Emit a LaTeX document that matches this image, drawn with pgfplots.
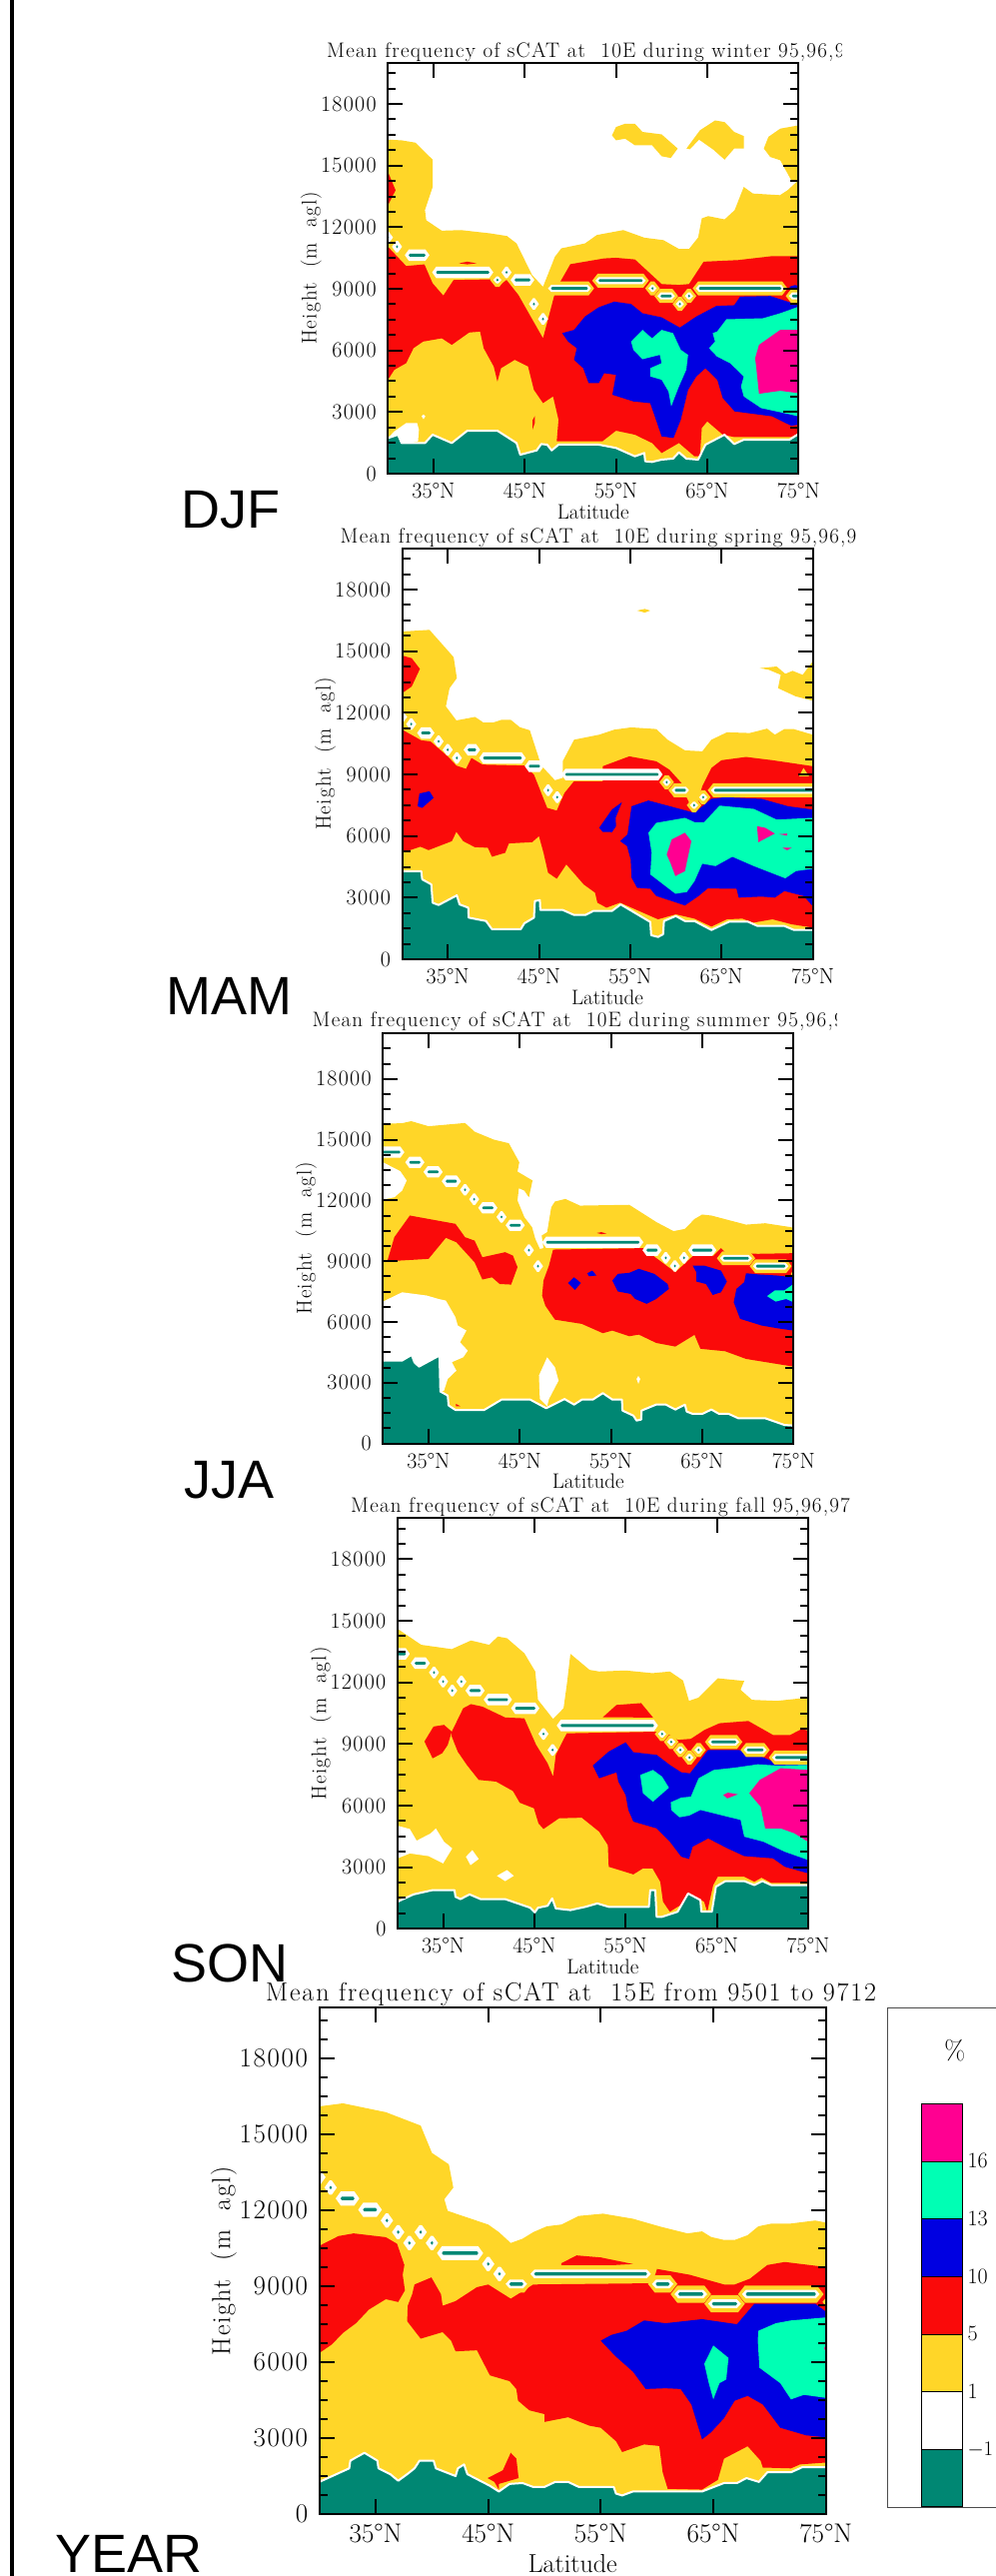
\documentclass[border=0pt]{standalone}
\usepackage{fontspec}
\usepackage{pgfplots}
\pgfplotsset{compat=1.18}
\newfontfamily\arialf{Liberation Sans}
\newfontfamily\ttlf{Latin Modern Roman}[LetterSpace=6]
\newfontfamily\ttlg{Latin Modern Roman}[LetterSpace=7]
\definecolor{cT}{RGB}{0,135,115}
\definecolor{cY}{RGB}{255,214,40}
\definecolor{cR}{RGB}{250,10,10}
\definecolor{cB}{RGB}{0,0,225}
\definecolor{cG}{RGB}{0,255,180}
\definecolor{cM}{RGB}{255,0,145}
\newcommand{\fs}[1]{\fontsize{#1}{#1}\selectfont}
\pgfplotsset{
  sc/.style={scale only axis,xmin=30,xmax=75,ymin=0,ymax=20000,axis on top,
    axis line style={line width=2pt},
    tick style={black,line width=2pt},
    major tick length=15pt,minor tick length=8pt,tick align=inside,
    xtick={35,45,55,65,75},xticklabels={35°N,45°N,55°N,65°N,75°N},
    ytick={0,3000,...,18000},minor ytick={750,1500,...,19500},
    scaled y ticks=false,
    /pgf/number format/1000 sep={},/pgf/number format/assume math mode=true,
    xlabel={Latitude},ylabel={Height\ \ (m\ \ agl)},
  },
  sm/.style={sc,width=411pt,height=411pt,
    xticklabel style={font=\fs{22},yshift=-6pt},yticklabel style={font=\ttlf\fs{22},xshift=-8pt},
    every axis y label/.style={at={(axis description cs:-0.187,0.5)},rotate=90,anchor=center,font=\ttlf\fs{21}},
    every axis x label/.style={at={(axis description cs:0.5,0)},anchor=center,yshift=-38pt,font=\fs{21}},
  },
  lg/.style={sc,width=507pt,height=506.5pt,
    xticklabel style={font=\fs{27},yshift=-7pt},yticklabel style={font=\ttlf\fs{27},xshift=-8pt},
    every axis y label/.style={at={(axis description cs:-0.189,0.5)},rotate=90,anchor=center,font=\ttlf\fs{26}},
    every axis x label/.style={at={(axis description cs:0.5,0)},anchor=center,yshift=-50pt,font=\fs{26}},
  },
  fY/.style={fill=cY,draw=none},fW/.style={fill=white,draw=none},
  fR/.style={fill=cR,draw=none},fB/.style={fill=cB,draw=none},
  fG/.style={fill=cG,draw=none},fM/.style={fill=cM,draw=none},
  fT/.style={fill=cT,draw=white,line width=2pt,line join=round},
  fC/.style={fill=cT,draw=none},
}
% jet core: lozenge from latitude #1 to #2 at height #3, white halo only
\newcommand{\jet}[3]{%
  \pgfmathsetmacro\ja{#1-0.55}\pgfmathsetmacro\jb{#1-0.1}\pgfmathsetmacro\jc{#2+0.1}\pgfmathsetmacro\jd{#2+0.55}%
  \pgfmathsetmacro\ju{#3+280}\pgfmathsetmacro\jl{#3-280}%
  \addplot[fW] coordinates {(\ja,#3)(\jb,\ju)(\jc,\ju)(\jd,#3)(\jc,\jl)(\jb,\jl)};
  \jcore{#1}{#2}{#3}}
% same with a yellow rim, where the halo sits in red
\newcommand{\jetr}[3]{%
  \pgfmathsetmacro\ja{#1-0.8}\pgfmathsetmacro\jb{#1-0.2}\pgfmathsetmacro\jc{#2+0.2}\pgfmathsetmacro\jd{#2+0.8}%
  \pgfmathsetmacro\ju{#3+340}\pgfmathsetmacro\jl{#3-340}%
  \addplot[fY] coordinates {(\ja,#3)(\jb,\ju)(\jc,\ju)(\jd,#3)(\jc,\jl)(\jb,\jl)};
  \pgfmathsetmacro\ja{#1-0.45}\pgfmathsetmacro\jb{#1-0.1}\pgfmathsetmacro\jc{#2+0.1}\pgfmathsetmacro\jd{#2+0.45}%
  \pgfmathsetmacro\ju{#3+170}\pgfmathsetmacro\jl{#3-170}%
  \addplot[fW] coordinates {(\ja,#3)(\jb,\ju)(\jc,\ju)(\jd,#3)(\jc,\jl)(\jb,\jl)};
  \jcore{#1}{#2}{#3}}
\newcommand{\jcore}[3]{%
  \pgfmathsetmacro\ja{#1-0.12}\pgfmathsetmacro\jd{#2+0.12}%
  \pgfmathsetmacro\ju{#3+70}\pgfmathsetmacro\jl{#3-70}%
  \addplot[fC] coordinates {(\ja,#3)(#1,\ju)(#2,\ju)(\jd,#3)(#2,\jl)(#1,\jl)};}
\begin{document}
\begin{tikzpicture}
\path[use as bounding box] (0pt,0pt) rectangle (996pt,2578pt);
\fill[black] (10pt,0pt) rectangle (14pt,2578pt);
% ---------- DJF
\begin{axis}[sm,at={(388.3pt,2104pt)},anchor=south west]
\addplot[fY] coordinates {(30,16265)(31.5,16230)(33,16120)(34.9,15290)(34.9,13960)(34.06,12830)(34.2,12340)(35.9,11830)(38,11860)(41.2,11700)(43.05,11570)(44.1,11210)(45.8,9670)(47,9100)(48.3,10560)(49,10970)(51.6,11210)(52.9,11620)(55.8,11860)(58.1,11490)(60.2,11370)(61.9,10940)(63,10940)(64,11500)(64.4,12430)(65.1,12540)(66.9,12380)(68,12830)(69,13960)(70,13640)(72.97,13560)(73.8,13800)(75,14290)(75,0)(30,0)};
\addplot[fY] coordinates {(54.56,16475)(55,16880)(56,17040)(57.07,17040)(57.9,16640)(60,16520)(61.76,15830)(61,15370)(60,15455)(58.95,15990)(57.07,15990)(56,16310)(55,16230)};
\addplot[fY] coordinates {(62.72,15830)(64.2,16720)(65.86,17200)(66.9,17120)(67.95,16640)(69,16440)(69,15830)(67.95,15830)(66.9,15290)(65.65,15780)(64.1,16265)(63.1,15795)};
\addplot[fY] coordinates {(71.2,15830)(71.7,16400)(73,16800)(75,16960)(75,14290)(74.2,14290)(73,15260)(71.9,15420)};
\addplot[fW] coordinates {(30,1733)(30.7,2057)(32,2462)(33.2,2462)(33.4,2138)(33.3,1570)(30,1235)};
\addplot[fW] coordinates {(33.7,2790)(33.9,2880)(34.1,2790)(33.9,2650)};
\addplot[fR] coordinates {(30,14690)(30.84,13800)(30,13070)};
\addplot[fR] coordinates {(37.8,10240)(38.7,10320)(39.7,10240)(38.7,10190)};
\addplot[fR] coordinates {(45.85,2140)(46.1,2470)(46.1,2800)(45.85,2600)};
\addplot[fR] coordinates {(30,11050)(32,10110)(34,10190)(34.9,9270)(36.07,8670)(37.2,9430)(41.2,9460)(42,9100)(43,9430)(44.3,8700)(47,6590)(48.2,8620)(48.9,9350)(50,10200)(53.7,10480)(55,10510)(57.07,10430)(60,9230)(61.9,9190)(63,9230)(64.6,10320)(68.4,10400)(72.1,10590)(75,10590)(75,1976)(74.2,1782)(67.95,1782)(66.7,1895)(65,2543)(64.4,2220)(64.2,842)(63.6,842)(61.9,1490)(60,1004)(58.95,1490)(57.07,1895)(55,2090)(53.5,1570)(48.5,1570)(48.7,2624)(48.1,3758)(47,3434)(46,4082)(45.36,5216)(43.9,5540)(42.4,5135)(42,4487)(41.6,5216)(40.5,6107)(40.1,6917)(38.9,6870)(37,6270)(35.9,6590)(33.85,6430)(32.8,6107)(32,5378)(30.7,5054)(30,4568)};
\addplot[fB] coordinates {(49.1,6840)(50.4,7000)(51.6,7650)(53.1,8100)(54.8,8375)(56.65,8260)(57.9,7810)(60,7610)(62,7110)(63.8,7650)(66,8165)(67.95,8200)(68.6,8620)(71.9,8650)(75,8210)(75,2380)(74.2,2330)(72.1,2790)(68,3030)(66.7,3680)(66.1,4570)(64.8,5135)(63.8,4730)(62.9,4080)(62.1,2620)(61.3,1733)(60,1814)(58.75,3430)(56.9,3515)(54.6,3840)(55,4810)(53.7,4890)(53.1,4406)(52,4406)(51.4,5135)(50.4,5540)(50.7,6107)(49.75,6430)};
\addplot[fB] coordinates {(74,9100)(74.6,9180)(75,9150)(75,8800)(74.4,8900)};
\addplot[fG] coordinates {(56.65,6430)(57.9,7000)(58.95,6590)(60,7000)(61.25,6840)(62.1,6030)(62.9,5780)(62.7,5054)(61.9,4244)(61.05,3272)(60.75,4000)(60,4570)(58.75,4730)(58.75,5135)(60,5378)(59.8,5780)(57.9,5570)(56.9,6030)};
\addplot[fG] coordinates {(66.07,6917)(67.1,7517)(71.1,7565)(73,7810)(75,8130)(75,2790)(73.4,2950)(70.9,3190)(69,3758)(68.7,4244)(69,4730)(67.5,5378)(66.07,5700)(65.2,6107)(65.85,6430)(65.6,6840)};
\addplot[fM] coordinates {(70.25,5620)(70.67,6270)(73,7000)(75,7000)(75,3920)(73,4034)(70.67,3888)(70.4,5054)};
\addplot[fT] coordinates {(29,1733)(30,1733)(31.1,1895)(31.5,1490)(34.06,1490)(34.9,1895)(37,1490)(38.7,2090)(42,2090)(44.1,1490)(44.5,920)(46.3,1130)(46.8,1440)(47.45,1410)(47.95,1130)(48.7,1410)(53.1,1410)(55,1250)(57.07,842)(58.1,1004)(58.2,600)(58.95,567)(60,680)(61.25,730)(61.9,1040)(62.7,730)(64,680)(64.8,1410)(66.9,1895)(67.95,1440)(69,1650)(74,1650)(75,1930)(76,1930)(76,-500)(29,-500)};
\jet{30}{30}{11500}\jet{31}{31}{11050}\jet{32.4}{34}{10640}\jet{35.4}{41}{9800}
\jetr{42}{42}{9430}\jet{43}{43}{9800}\jet{44}{45.5}{9430}\jet{46}{46}{8260}\jet{47}{47}{7530}
\jetr{48}{51.8}{9020}\jetr{53.2}{57.8}{9400}\jetr{59}{59}{9020}\jetr{60}{61}{8650}\jetr{62}{62}{8260}\jetr{63}{63}{8650}\jetr{64.2}{73}{9020}\jetr{74.4}{75}{8650}
\end{axis}
% ---------- MAM
\begin{axis}[sm,at={(402.5pt,1618pt)},anchor=south west]
\addplot[fY] coordinates {(30,15960)(33,16040)(35.65,14710)(36,13690)(35.2,13200)(34.8,12310)(35.95,11630)(38,11800)(38.9,11530)(40,11530)(40.9,11660)(41.9,11660)(42.9,11300)(44,11150)(45.1,9640)(45.5,9315)(46.75,8716)(47.6,8830)(47.6,9315)(47.6,9640)(48.85,10690)(51.6,10935)(53.25,11180)(55.1,11290)(57.85,11210)(59.1,10690)(61,10170)(62.9,10125)(63.9,10690)(65.6,11050)(68.1,11016)(70,11230)(70.85,10935)(71.9,11210)(72.9,11210)(75,10935)(75,0)(30,0)};
\addplot[fY] coordinates {(55.75,16980)(56.6,17060)(57.2,16980)(56.6,16880)};
\addplot[fY] coordinates {(69.2,14175)(71.05,14256)(72,13900)(72.8,14045)(73.9,13850)(75,14500)(75,12590)(73.15,12800)(71.2,13200)(71.5,13850)(70.2,14094)};
\addplot[fR] coordinates {(30,14790)(31.05,14660)(31.95,14140)(31.05,13280)(30,12960)};
\addplot[fR] coordinates {(30,11180)(32.1,10660)(33.1,10610)(35,9880)(35.95,9430)(37,9270)(37.6,9800)(38.8,9480)(43.4,9430)(44.45,8990)(45.9,7370)(46.95,7240)(47.8,8100)(48.85,8670)(52,8670)(52,9400)(54.9,9880)(57.85,9640)(59.3,9230)(60.6,8590)(61,8020)(62.05,7130)(62.9,8420)(63.9,9315)(65,9690)(67.7,9850)(70.6,9690)(75,9400)(75,1540)(72.7,1700)(70.6,1944)(68.5,1782)(67.3,1976)(65.6,1944)(63.9,1590)(62.05,1976)(60,2187)(58.05,1944)(55.55,2430)(53.9,2754)(52.4,2511)(51.4,2754)(51.15,3240)(49.9,3645)(48,4617)(46.95,3920)(46,4212)(45.5,5184)(45,5994)(44.25,5700)(41.7,5640)(41.3,5184)(39.85,4990)(39.4,5427)(37.95,5460)(36.7,5750)(35.95,6205)(35.45,5750)(32.9,5314)(32,5480)(30,5184)};
\addplot[fY] coordinates {(74,9315)(73.5,8910)(74.6,8910)};
\addplot[fB] coordinates {(31.7,7450)(31.9,8070)(33,8180)(33.45,7860)(32.2,7370)};
\addplot[fB] coordinates {(51.6,6400)(53,7290)(54.1,7650)(53.4,6885)(53.45,6480)(53,6190)(52,6200)};
\addplot[fB] coordinates {(53.9,5750)(54.7,6075)(55.15,7450)(57,7730)(62.05,7130)(63.9,7810)(65.4,7890)(69.4,7810)(72.3,7450)(75,7290)(75,2590)(74,3080)(71.9,3320)(70.85,3000)(69.4,3050)(66.9,3000)(66.65,3430)(63.5,3450)(62.5,3080)(61,2620)(57.85,3080)(57.2,3430)(55.75,3480)(55.15,3970)(55.05,4860)(54.65,5510)};
\addplot[fG] coordinates {(57,6160)(57.85,6640)(61,6885)(62.05,6675)(63.1,6675)(64.8,7480)(68.55,7320)(71.05,6800)(75,6885)(75,4406)(73.15,4290)(72,3940)(68.55,4536)(66.2,4990)(64.35,4536)(62.9,4650)(62.05,3800)(61.2,3270)(59.95,3190)(57.2,4130)(57.35,5184)};
\addplot[fM] coordinates {(59,5100)(59.55,5830)(61,6160)(61.7,5750)(61,4290)(59.95,4050)(59.4,4700)};
\addplot[fM] coordinates {(68.9,6480)(69.8,6400)(70.85,6120)(69.05,5700)};
\addplot[fM] coordinates {(71.3,6090)(72.2,6120)(72.2,6020)};
\addplot[fM] coordinates {(71.7,5430)(72.7,5430)(72.2,5310)};
\addplot[fT] coordinates {(29,4290)(30,4290)(32.1,4290)(32.2,3890)(33.2,3645)(33.35,2750)(34,2640)(36,3110)(36.3,2670)(37.25,2510)(37.3,2025)(39.2,1860)(39.85,1460)(43,1460)(43.4,1750)(44.45,2025)(44.55,2835)(45.1,2880)(45.15,2400)(47.6,2400)(48.85,2155)(50.1,2155)(50.95,2350)(53,2350)(53.95,2670)(57.2,1815)(57.3,1170)(58.05,1085)(58.6,1215)(58.7,1860)(60,2105)(61,1860)(62.05,1860)(63.9,1425)(65.85,1830)(67.9,1830)(68.95,1620)(71.9,1620)(72.95,1425)(75,1425)(76,1425)(76,-500)(29,-500)};
\jet{30}{30}{11800}\jet{31}{31}{11450}\jet{32.2}{33}{11020}\jet{34}{34}{10610}\jet{35}{35}{10200}\jet{36}{36}{9800}\jet{37.3}{38}{10200}\jet{39}{43}{9800}\jet{44}{45}{9400}\jet{46}{46}{8230}\jet{47}{47}{7890}
\jet{48}{58}{9000}\jetr{59}{59}{8620}\jetr{60}{61}{8230}\jetr{62}{62}{7500}\jetr{63}{63}{7890}\jetr{64.3}{75.5}{8230}
\end{axis}
% ---------- JJA
\begin{axis}[sm,at={(383.3pt,1133.3pt)},anchor=south west,ymax=20280]
\addplot[fY] coordinates {(30,15790)(32.1,15820)(33.1,15920)(35,15670)(39,15830)(40.05,15400)(42.15,15010)(43.8,14830)(44.95,13890)(44.75,13430)(46.4,12990)(46,12160)(45.5,12490)(44.9,12610)(44.75,12000)(45.5,11180)(46.35,10680)(46.7,10110)(47.2,9610)(47.6,9650)(47.4,10270)(48,10440)(48.45,11670)(48.85,11950)(50,12080)(51.6,11750)(57,11790)(60,10930)(61.85,10490)(63.1,10600)(64.15,11090)(65,11310)(66,11260)(69.8,10810)(71.9,10880)(74.8,10680)(75,10570)(75,0)(30,0)};
\addplot[fW] coordinates {(30,13890)(31.9,13450)(32.6,12990)(32.1,12490)(31.25,12160)(30,12050)};
\addplot[fW] coordinates {(30,7010)(32.1,7470)(34.8,7310)(36.1,7140)(36.9,7060)(37.95,6240)(38.2,5830)(39.15,5580)(38.45,5000)(39.3,4590)(38.8,4260)(37.55,4020)(38.05,3600)(37.1,3190)(36.7,2620)(36.3,2530)(30,2530)};
\addplot[fW] coordinates {(48,4260)(48.85,3770)(49.25,3110)(48.2,2200)(48,1840)(47.2,2200)(47.1,3360)};
\addplot[fW] coordinates {(57.8,3190)(58,3340)(58.2,3190)(58,2950)};
\addplot[fR] coordinates {(30.5,9040)(31.25,10190)(32.95,11260)(37.95,10850)(39,10190)(40.05,10020)(40.9,9200)(43.4,9450)(44.25,9280)(44.75,8710)(44.05,7850)(42.8,7880)(41.95,8210)(40.9,8100)(40.05,8950)(39.2,9370)(38.05,9940)(36.9,10160)(35,9120)(30.5,9000)};
\addplot[fR] coordinates {(48.2,8790)(48.65,9580)(58.5,9650)(62.05,8460)(63.95,9250)(66.25,9280)(67.05,9650)(67.5,9450)(71.05,9370)(75,9400)(75,3800)(69.8,4180)(67.5,4560)(64.8,4680)(64.15,5370)(62.05,4790)(59.95,4970)(58.05,5380)(57,5300)(55.15,5580)(54.1,5450)(51.8,5910)(48.85,6120)(47.8,6810)(47.45,7310)(47.6,8050)};
\addplot[fR] coordinates {(53.45,10400)(53.95,10440)(54.5,10370)(53.95,10340)};
\addplot[fR] coordinates {(38,1960)(38.5,1840)(38,1840)};
\addplot[fB] coordinates {(50.3,7930)(50.95,8210)(51.7,7930)(51.05,7590)};
\addplot[fB] coordinates {(52.4,8410)(52.95,8540)(53.4,8300)(52.6,8260)};
\addplot[fB] coordinates {(55.15,8050)(55.75,8380)(57,8430)(58.05,8630)(59.75,8380)(61.2,7880)(61.35,7640)(59.95,7140)(58.9,6900)(57.65,7140)(57.15,7390)(55.75,7510)};
\addplot[fB] coordinates {(63.95,8790)(65.2,8790)(67.05,8540)(67.7,8000)(67.05,7470)(66.15,7340)(65.4,7880)(64.35,8000)(64.35,8460)};
\addplot[fB] coordinates {(69.8,8410)(71.25,8350)(73.15,8300)(75,8210)(75,5580)(73.15,5700)(71.5,5830)(69.15,6160)(68.45,6980)(68.75,7640)(69.6,7970)};
\addplot[fG] coordinates {(72.1,7280)(72.95,7560)(74,7560)(75,7880)(75,6980)(74.2,7140)(73.05,7010)};
\addplot[fT] coordinates {(29,4100)(30,4100)(32.1,4100)(33.15,4380)(33.45,4020)(33.95,3800)(36.2,4350)(36.3,2570)(37.1,2370)(37.2,1880)(37.95,1660)(41.1,1660)(43,2170)(46.15,2170)(47.9,1745)(49.9,2200)(50.95,1925)(51.8,2170)(53,2170)(54.1,2490)(55.15,2170)(56.2,2170)(56.25,1630)(57.45,1380)(57.8,1135)(58.3,1185)(58.35,1630)(59.95,1925)(61,1925)(62.05,1680)(63.1,1925)(63.3,1580)(63.95,1465)(65,1465)(66,1680)(66.85,1465)(67.9,1465)(68.95,1250)(71.9,1250)(74,920)(75,890)(76,890)(76,-500)(29,-500)};
\jet{30}{31.8}{14390}\jet{33}{34}{13890}\jet{35}{36}{13415}\jet{37}{38}{12955}\jet{39}{39}{12530}\jet{40}{40}{12065}\jet{41}{42}{11640}\jet{43}{43}{11190}\jet{44}{45}{10780}\jet{46}{46}{9550}\jet{47}{47}{8760}
\jet{48}{58}{9940}\jet{59}{60}{9550}\jet{61}{61}{9170}\jet{62}{62}{8770}\jet{63}{63}{9170}\jet{64}{66}{9550}\jetr{67.4}{70}{9150}\jetr{71}{74}{8760}\jetr{75.5}{76}{8380}
\end{axis}
% ---------- SON
\begin{axis}[sm,at={(397.9pt,647.7pt)},anchor=south west]
\addplot[fY] coordinates {(30,14610)(32.6,13830)(35.95,13620)(38.05,14040)(40.05,13830)(41,14235)(42,14150)(43.9,13420)(45.1,12530)(45.4,11150)(47.05,10220)(48.2,10740)(48.6,12040)(48.95,13390)(51.05,12610)(52.1,12530)(55,12580)(57.95,12450)(59.85,12530)(61.3,12090)(61.95,11100)(63,11260)(65.1,12200)(68,12070)(67.6,11640)(68.85,11150)(71.6,11100)(75,11260)(75,0)(30,0)};
\addplot[fW] coordinates {(30,5020)(31.35,4860)(32.1,4290)(33.65,4650)(34.2,4890)(35.1,4240)(36,3915)(35,3185)(33.4,3540)(31.35,3670)(30,3430)};
\addplot[fW] coordinates {(38.2,3835)(38.9,3400)(38,3100)(37.5,3510)};
\addplot[fW] coordinates {(40.9,2580)(42,2860)(42.75,2580)(41.8,2320)};
\addplot[fR] coordinates {(52.5,10300)(54,10900)(56.7,10990)(58,10290)};
\addplot[fR] coordinates {(32.95,9120)(33.95,9850)(35.1,9930)(35.95,9600)(35.5,8950)(34.9,8550)(33.85,8300)};
\addplot[fR] coordinates {(35.95,9600)(37.2,10740)(38.05,10940)(39.3,10820)(41.8,10290)(43.9,10250)(45.2,8950)(46.45,8060)(47.05,7410)(47.35,8470)(48.55,9520)(58.4,9600)(59,9685)(60.7,9200)(62.15,9250)(63.65,9685)(65.3,10010)(68.45,10120)(71.15,9440)(73.05,9440)(74.3,9730)(75,9650)(75,2240)(70.95,2240)(69.9,2490)(69.1,2290)(68,2535)(65.1,2535)(64.6,2130)(63.95,830)(63.6,1320)(61.95,1720)(61.3,1235)(59.85,830)(59.1,1320)(58.8,2290)(57.95,2940)(56.9,2940)(55.85,2650)(53.15,3020)(53.05,4080)(52.1,4730)(50.2,5410)(47.7,5380)(46,4860)(45.45,5135)(44.95,5870)(43.4,6140)(42.65,6710)(40.8,7170)(38.9,7250)(37.6,7980)(36.6,8630)(35.95,9360)};
\addplot[fB] coordinates {(51.4,7950)(53.15,8630)(55,9080)(55.85,8600)(58.4,8470)(59.85,7980)(61.1,7620)(62.05,7570)(64.05,8710)(67.4,8710)(69.9,8385)(71.6,8060)(75,8060)(75,2700)(72.45,3020)(71.15,3430)(68,3540)(66.15,3920)(64.05,4400)(62.35,4000)(61.95,3400)(61.1,3510)(59.85,4240)(58.4,4890)(55.85,5220)(55.3,5785)(55,6515)(54.2,7170)(54,7620)(52.1,7330)};
\addplot[fG] coordinates {(56.6,7490)(58,7735)(59,7410)(59.75,6870)(58,6190)(56.9,6600)};
\addplot[fG] coordinates {(59.95,6160)(61.1,6390)(62.15,6435)(63,7330)(64.65,7735)(67,7850)(69.5,8010)(71.6,7950)(75,7980)(75,3350)(72.45,3750)(70.1,4240)(68,4485)(67.6,5300)(63.2,5785)(61.95,5510)(60.9,5430)(60,5785)};
\addplot[fM] coordinates {(68.55,6600)(69.7,7250)(72,7820)(75,7735)(75,4240)(73.5,4650)(72,4890)(70.3,4890)(69.8,5950)};
\addplot[fM] coordinates {(65.7,6515)(66.2,6630)(67.3,6550)(66.15,6350)};
\addplot[fT] coordinates {(29,1320)(30,1320)(31.75,1675)(33.85,1885)(36.25,1885)(36.35,1560)(36.9,1445)(37.9,1675)(39.1,1445)(41.8,1445)(44.55,1025)(45.05,800)(45.4,1025)(46.45,1120)(46.95,1480)(47.35,990)(48.95,910)(50.6,1070)(51.9,1235)(53.15,1070)(57.55,1070)(57.7,1885)(58.25,1885)(58.4,585)(59,585)(60.7,830)(61.85,1720)(63.2,1400)(63.3,830)(64.45,830)(64.9,2050)(65.95,2325)(68,2325)(69.1,2130)(70,2325)(70.95,2130)(75,2130)(76,2130)(76,-500)(29,-500)};
\jet{30}{30.8}{13390}\jet{32}{33}{12935}\jet{34}{34}{12480}\jet{35}{35}{12040}\jet{36}{36}{11600}\jet{37}{37}{12040}\jet{38}{39}{11600}\jet{40}{42}{11160}\jet{43}{45}{10740}\jet{46}{46}{9490}\jet{47}{47}{8710}
\jet{48}{58}{9900}\jetr{59}{59}{9490}\jetr{60}{60}{9100}\jetr{61}{61}{8710}\jetr{62}{62}{8340}\jetr{63}{63}{8710}\jetr{64.5}{67}{9100}\jetr{68.4}{70}{8710}\jetr{71.5}{75.5}{8340}
\end{axis}
% ---------- YEAR
\begin{axis}[lg,at={(319.7pt,62pt)},anchor=south west]
\addplot[fY] coordinates {(30,16110)(32.1,16230)(35.9,15880)(39,15350)(40,14270)(41.5,13820)(41.9,12900)(41.1,12440)(41.4,11980)(45,11440)(45.95,11140)(47,10710)(48.05,10880)(49,11140)(50.2,11370)(51.5,11440)(53.05,11780)(55.2,11870)(57.85,11670)(60.2,11370)(62.7,11090)(64,11170)(64.8,10950)(65.95,10830)(66.9,10830)(68.05,11020)(69,11370)(70.2,11480)(71.9,11480)(74.05,11600)(75,11520)(75,0)(30,0)};
\addplot[fR] coordinates {(30,10600)(31.7,10985)(33.05,11090)(35.9,10940)(36.9,10680)(37.55,9840)(37.4,9455)(37.6,8840)(37,8380)(35.9,8490)(34.4,8080)(33.25,7540)(32.1,7160)(31.1,6700)(30,6365)};
\addplot[fR] coordinates {(38.45,9070)(39.95,9350)(40.8,8690)(40.95,8230)(42.1,8415)(44,8965)(45,9070)(47,8510)(47.65,8690)(49,9070)(59.6,9120)(60,9685)(62.9,9455)(65.95,9070)(66.9,9070)(68.25,9300)(69.8,9840)(71.35,9960)(75,9760)(75,2035)(72.7,1960)(71.9,1805)(69.4,1836)(69.2,2110)(68.05,2680)(65.95,2190)(65.4,1350)(64,965)(60.95,995)(60.5,1650)(60.2,2690)(58.85,2750)(56.9,2450)(56.35,2880)(55,3410)(54,3490)(52.1,3825)(50,3640)(50,3950)(48.65,4100)(47.65,4480)(47.5,4940)(46.9,5250)(45.15,5480)(44,6470)(42.1,6430)(41.7,6855)(40.95,7190)(39,6930)(37.8,7620)(37.85,8230)(38.25,8690)};
\addplot[fR] coordinates {(44.95,1420)(46.3,1730)(47,2420)(47.5,2190)(47.7,1420)(45.95,1190)(45.95,960)(45.55,1270)};
\addplot[fR] coordinates {(51.5,9910)(52.85,10220)(55,10140)(57.85,9880)(56.3,9840)(51.5,9840)};
\addplot[fB] coordinates {(55,6850)(55.95,7080)(57.3,7240)(58.85,7650)(60.75,7540)(64,7700)(67.1,7500)(68.65,8310)(74.05,8310)(75,8000)(75,3030)(73.25,3110)(70.95,3410)(69.4,4330)(68.05,4670)(66.9,4480)(65.95,3790)(64.8,3230)(64,2950)(63.05,4330)(62.1,4940)(60.75,4970)(59,4940)(57.85,5630)(56.3,6240)};
\addplot[fG] coordinates {(64.2,5940)(65,6660)(66.35,6170)(66.15,5320)(65.55,5170)(65,4530)(64.6,5170)};
\addplot[fG] coordinates {(69,7240)(70.55,7540)(71.9,7650)(75,7770)(75,4590)(73.05,4710)(71.9,4530)(70.95,5170)(69.1,5780)(68.95,6855)};
\addplot[fM] coordinates {(74.85,6550)(75,6700)(75,6400)};
\addplot[fT] coordinates {(29,1270)(30,1270)(32.65,1805)(32.75,2110)(34,2420)(35.15,2110)(35.25,1805)(36.3,1575)(37,1315)(37.8,1575)(38.45,1805)(38.9,2110)(40.15,2110)(40.35,1805)(42.1,1500)(42.3,1805)(42.85,1960)(43.15,1575)(45.15,1115)(45.95,890)(46.9,1190)(48.05,1225)(49,1070)(50,1070)(50.95,1270)(52.1,1270)(53.05,1070)(56.15,1070)(56.35,810)(56.9,735)(57.85,890)(64,890)(65.95,1225)(67.1,1225)(67.95,1420)(69.05,1270)(69.8,1650)(71.9,1650)(72.9,1850)(75,1850)(76,1850)(76,-500)(29,-500)};
\jet{30}{30}{13310}\jet{31}{31}{12900}\jet{32}{33}{12470}\jet{34}{35}{12025}\jet{36}{36}{11600}\jet{37}{37}{11140}\jet{38}{38}{10710}\jet{39}{39}{11140}\jet{40}{40}{10710}\jet{41}{44}{10310}\jet{45}{45}{9880}\jet{46}{46}{9490}
\jetr{47}{48}{9090}\jetr{49.2}{59}{9490}\jetr{60}{61}{9090}\jetr{62}{64}{8690}\jetr{65}{67}{8310}\jetr{68}{74}{8690}\jetr{75.5}{76}{8380}
\end{axis}
% ---------- colour key
\draw[black!70,line width=1pt] (997pt,68pt) -- (888pt,68pt) -- (888pt,568pt) -- (997pt,568pt);
\begin{axis}[scale only axis,at={(922pt,69pt)},anchor=south west,width=41pt,height=404pt,
  xmin=0,xmax=1,ymin=0,ymax=7,xtick=\empty,ytick={1,2,3,4,5,6},yticklabels={$-1$,1,5,10,13,16},
  yticklabel pos=right,axis on top,axis line style={line width=1pt},major tick length=0pt,
  tick label style={font=\fs{22}},yticklabel style={xshift=2pt}]
\addplot[fill=cT,draw=black] coordinates {(0,0)(1,0)(1,1)(0,1)};
\addplot[fill=white,draw=black] coordinates {(0,1)(1,1)(1,2)(0,2)};
\addplot[fill=cY,draw=black] coordinates {(0,2)(1,2)(1,3)(0,3)};
\addplot[fill=cR,draw=black] coordinates {(0,3)(1,3)(1,4)(0,4)};
\addplot[fill=cB,draw=black] coordinates {(0,4)(1,4)(1,5)(0,5)};
\addplot[fill=cG,draw=black] coordinates {(0,5)(1,5)(1,6)(0,6)};
\addplot[fill=cM,draw=black] coordinates {(0,6)(1,6)(1,7)(0,7)};
\end{axis}
\node[font=\fs{27}] at (955.7pt,526pt) {\%};
% ---------- titles
\begin{scope}\clip (300pt,2515pt) rectangle (842pt,2560pt);
\node[anchor=base west,inner sep=0pt,font=\ttlf\fs{21}] at (327pt,2520pt) {Mean frequency of sCAT at\ \ 10E during winter 95,96,97};\end{scope}
\begin{scope}\clip (300pt,2030pt) rectangle (856pt,2060pt);
\node[anchor=base west,inner sep=0pt,font=\ttlf\fs{21}] at (340.5pt,2034pt) {Mean frequency of sCAT at\ \ 10E during spring 95,96,97};\end{scope}
\begin{scope}\clip (300pt,1545pt) rectangle (837pt,1575pt);
\node[anchor=base west,inner sep=0pt,font=\ttlf\fs{21}] at (312.5pt,1550pt) {Mean frequency of sCAT at\ \ 10E during summer 95,96,97};\end{scope}
\begin{scope}\clip (300pt,1060pt) rectangle (852pt,1090pt);
\node[anchor=base west,inner sep=0pt,font=\ttlf\fs{21}] at (351pt,1064pt) {Mean frequency of sCAT at\ \ 10E during fall 95,96,97};\end{scope}
\node[anchor=base west,inner sep=0pt,font=\ttlg\fs{26}] at (266pt,575pt) {Mean frequency of sCAT at\ \ 15E from 9501 to 9712};
% ---------- season labels
\node[anchor=base west,inner sep=0pt,font=\arialf\fs{54}] at (181pt,2049pt) {DJF};
\node[anchor=base west,inner sep=0pt,font=\arialf\fs{54}] at (166pt,1562pt) {MAM};
\node[anchor=base west,inner sep=0pt,font=\arialf\fs{54}] at (184pt,1078pt) {JJA};
\node[anchor=base west,inner sep=0pt,font=\arialf\fs{54}] at (171pt,594pt) {SON};
\node[anchor=base west,inner sep=0pt,font=\arialf\fs{54}] at (55pt,3pt) {YEAR};
\end{tikzpicture}
\end{document}
